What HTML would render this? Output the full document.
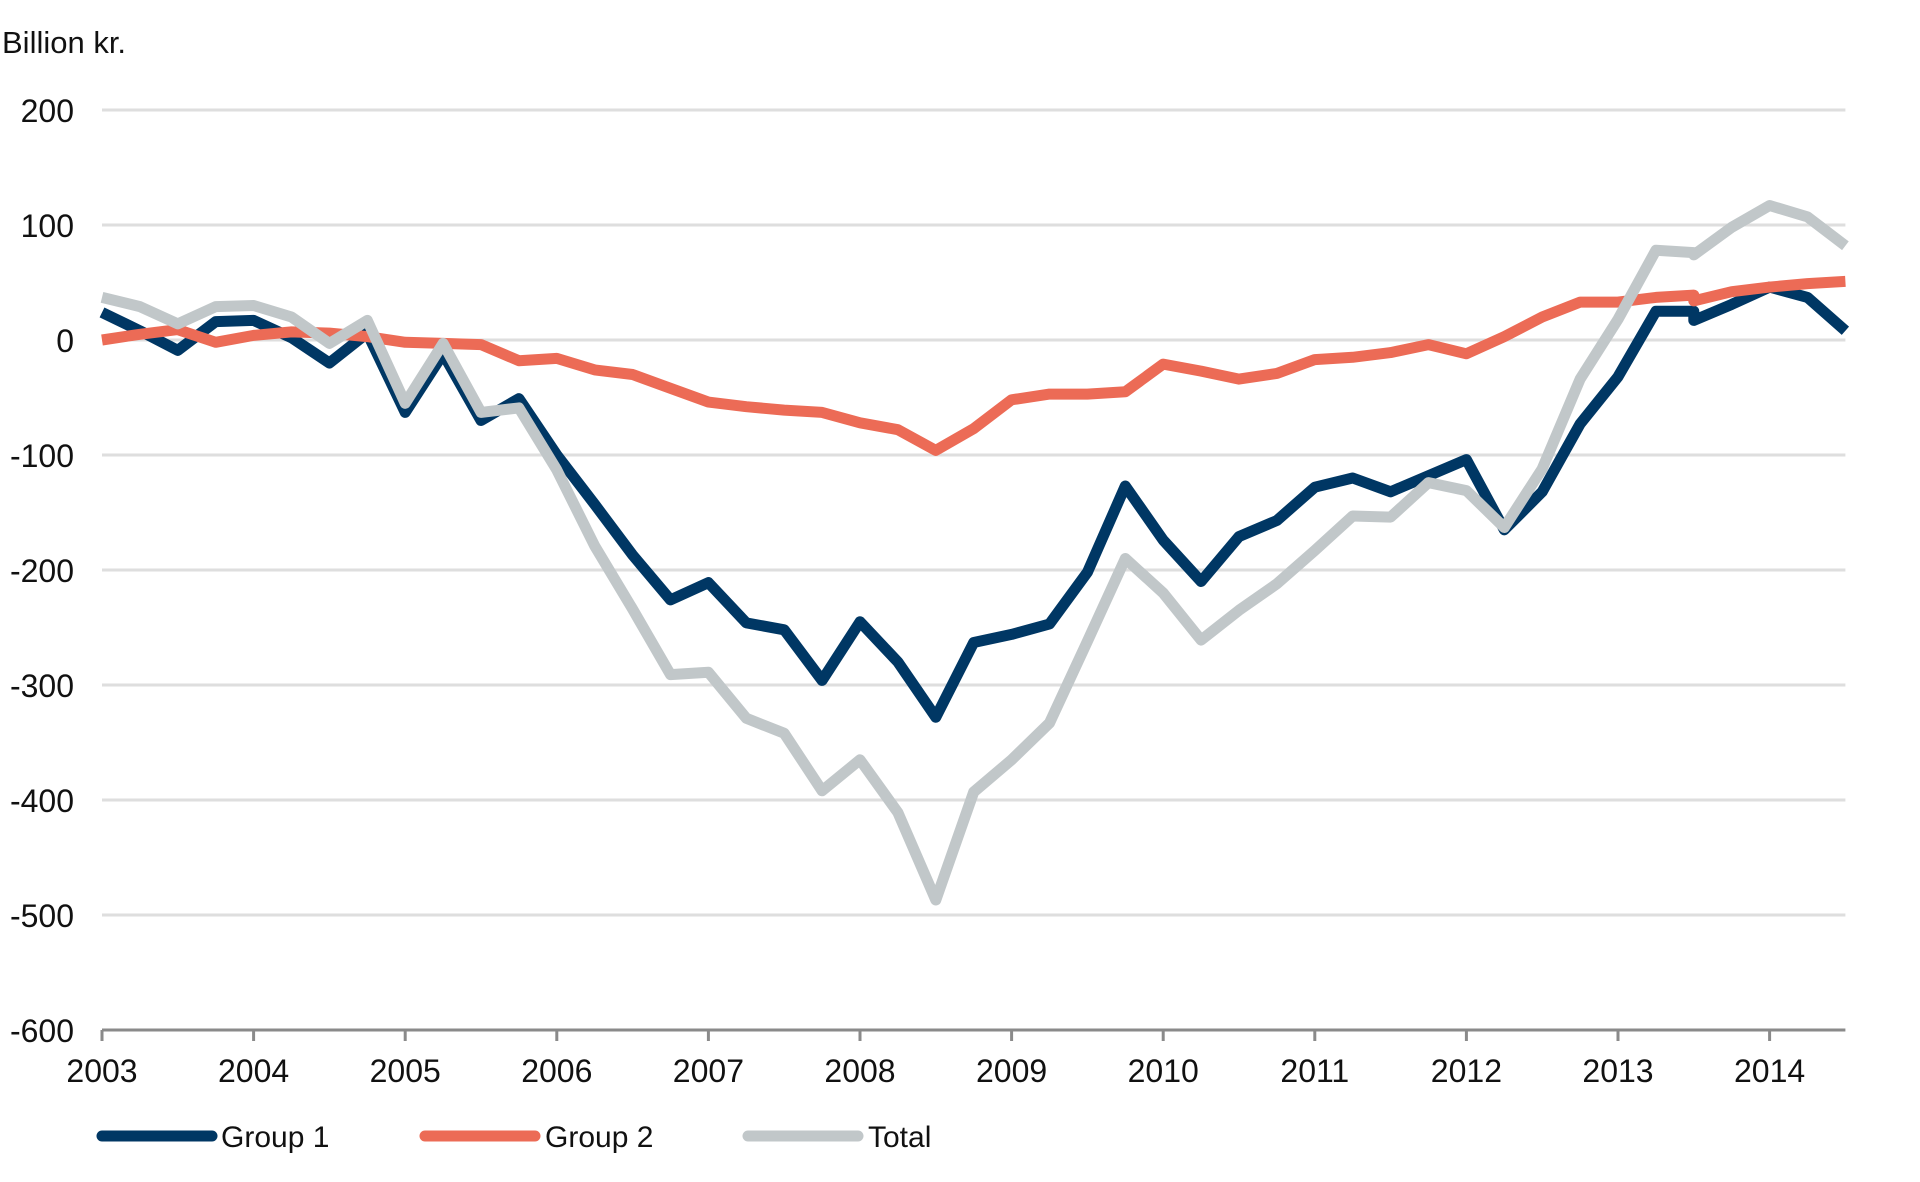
<!DOCTYPE html>
<html><head><meta charset="utf-8"><style>
html,body{margin:0;padding:0;background:#fff;}
svg{display:block;font-family:"Liberation Sans",sans-serif;}
</style></head><body>
<svg id="c" width="1920" height="1182" viewBox="0 0 1920 1182" xmlns="http://www.w3.org/2000/svg">
<text x="2" y="53" font-size="31" fill="#111">Billion kr.</text>
<g id="grid"></g>
<g id="lines" fill="none" stroke-width="11" stroke-linejoin="round" stroke-linecap="butt"></g>
<g font-size="30" fill="#111">
<line x1="102" y1="1136" x2="212" y2="1136" stroke="#003764" stroke-width="11" stroke-linecap="round"/>
<text x="221" y="1147">Group 1</text>
<line x1="425" y1="1136" x2="535" y2="1136" stroke="#ec6b56" stroke-width="11" stroke-linecap="round"/>
<text x="545" y="1147">Group 2</text>
<line x1="748" y1="1136" x2="858" y2="1136" stroke="#c1c7c9" stroke-width="11" stroke-linecap="round"/>
<text x="868" y="1147">Total</text>
</g>
</svg>
<script>
var NS="http://www.w3.org/2000/svg";
function X(t){return 102+151.6*(t-2003);}
function Y(v){return 340-1.15*v;}
function el(tag,attrs,parent,txt){var e=document.createElementNS(NS,tag);for(var k in attrs)e.setAttribute(k,attrs[k]);if(txt!==undefined)e.textContent=txt;parent.appendChild(e);return e;}
var g=document.getElementById('grid');
var XE=X(2014.5);
for(var v=200;v>=-600;v-=100){
  if(v>-600) el('line',{x1:102,x2:XE,y1:Y(v),y2:Y(v),stroke:'#dedede','stroke-width':3},g);
  el('text',{x:74,y:Y(v)+12,'text-anchor':'end','font-size':32,fill:'#111'},g,String(v));
}
el('line',{x1:102,x2:XE,y1:1030,y2:1030,stroke:'#8a8a8a','stroke-width':3},g);
for(var yr=2003;yr<=2014;yr++){
  el('line',{x1:X(yr),x2:X(yr),y1:1030,y2:1041,stroke:'#8a8a8a','stroke-width':3},g);
  el('text',{x:X(yr),y:1082,'text-anchor':'middle','font-size':32,fill:'#111'},g,String(yr));
}
function series(vals){
  return vals.map(function(p,i){return (i?'L':'M')+X(p[0]).toFixed(1)+' '+Y(p[1]).toFixed(1);}).join(' ');
}
function q(arr,after){
  var out=[];for(var i=0;i<arr.length;i++){var t=2003+i*0.25;out.push([t,arr[i]]);if(Math.abs(t-2013.5)<1e-6&&after!==undefined)out.push([t,after]);}
  return out;
}
var g1=[24,8,-9,16,17,2,-20,6,-63,-12,-70,-51,-100,-143,-187,-226,-211,-246,-252,-296,-245,-280,-328,-263,-256,-247,-202,-127,-174,-210,-171,-157,-128,-120,-132,-118,-104,-165,-132,-73,-32,25,25,31,46,37,8];
var g2=[0,5,9,-2,4,7,6,3,-2,-3,-4,-18,-16,-26,-30,-42,-54,-58,-61,-63,-72,-78,-96,-77,-52,-47,-47,-45,-21,-27,-34,-29,-17,-15,-11,-4,-12,3,20,33,33,37,39,42,46,49,51];
var tt=[37,29,14,29,30,20,-3,17,-55,-3,-63,-59,-113,-179,-234,-291,-289,-329,-342,-392,-365,-411,-487,-393,-365,-333,-262,-190,-220,-261,-235,-212,-183,-153,-154,-124,-131,-163,-112,-34,18,78,76,98,117,107,82];
var L=document.getElementById('lines');
el('path',{d:series(q(g1,17)),stroke:'#003764'},L);
el('path',{d:series(q(g2,34)),stroke:'#ec6b56'},L);
el('path',{d:series(q(tt,74)),stroke:'#c1c7c9'},L);
</script>
</body></html>
